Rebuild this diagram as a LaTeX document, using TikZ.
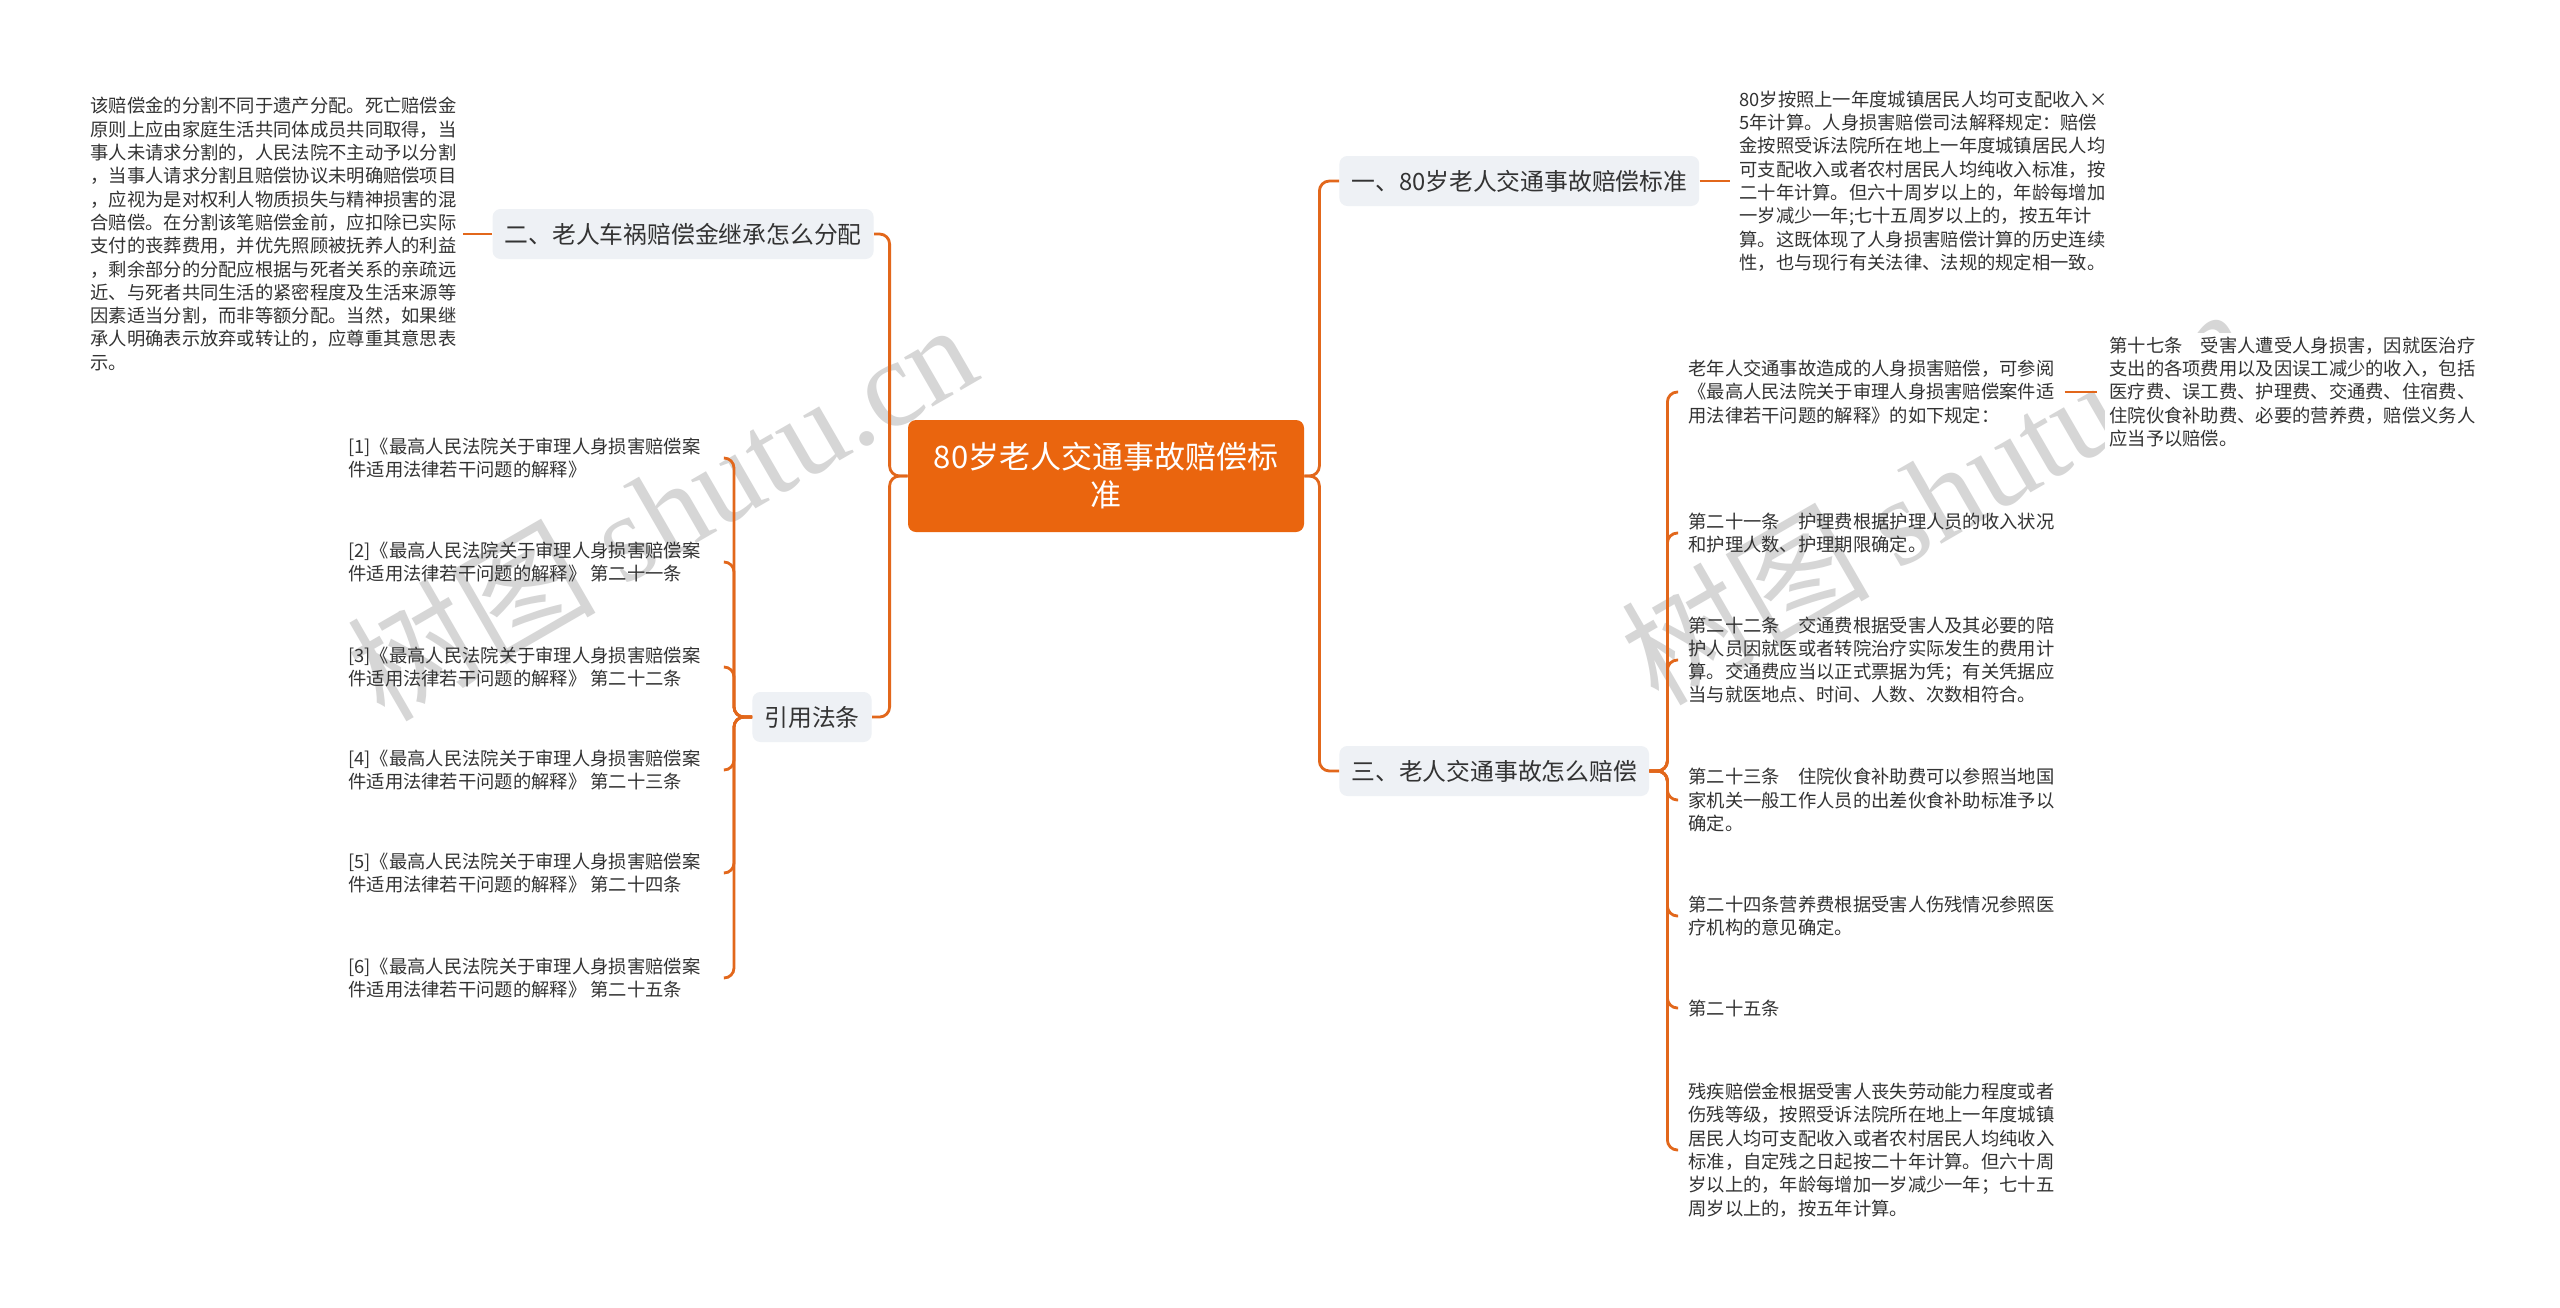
\documentclass[tikz,border=0pt]{standalone}
\usepackage{fontspec}
\setmainfont{Noto Sans CJK SC}
\newfontfamily\wmlatin{Liberation Serif}
\usetikzlibrary{positioning}
\definecolor{mapline}{HTML}{E2671B}
\definecolor{rootfill}{HTML}{EA650E}
\definecolor{topicfill}{HTML}{EEF1F5}
\definecolor{txt}{HTML}{333333}
\tikzset{
  link/.style={draw=mapline, line width=1.4pt, rounded corners=5pt},
  rootbox/.style={fill=rootfill, text=white, rounded corners=4pt, minimum width=198pt,
    minimum height=56pt, align=center, font=\fontsize{15.5pt}{19pt}\selectfont},
  topic/.style={fill=topicfill, text=txt, rounded corners=4pt, minimum height=25pt,
    inner xsep=6pt, font=\fontsize{11.9pt}{14pt}\selectfont},
  note/.style={text=txt, inner sep=0pt, align=left, font=\fontsize{9.15pt}{11.65pt}\selectfont},
  wmark/.style={text=black!16, rotate=30, font=\fontsize{62pt}{62pt}\selectfont}
}
\begin{document}
\begin{tikzpicture}[x=0.5pt, y=-0.5pt]
  \fill[white] (0,0) rectangle (2560,1307);
  \useasboundingbox (0,0) rectangle (2560,1307);
  % watermarks
  \node[wmark] (wm1) at (661,510) {树图 {\wmlatin shutu.cn}};
  \node[wmark] (wm2) at (1935,494) {树图 {\wmlatin shutu.cn}};

  % root
  \node[rootbox] (root) at (1106,476) {80岁老人交通事故赔偿标\\准};

  % right side
  \node[topic, anchor=west] (b1) at (1339,181) {一、80岁老人交通事故赔偿标准};
  \node[topic, anchor=west] (b3) at (1339,771) {三、老人交通事故怎么赔偿};
  \node[note, anchor=west] (p1) at (1739,181) {80岁按照上一年度城镇居民人均可支配收入×\\5年计算。人身损害赔偿司法解释规定：赔偿\\金按照受诉法院所在地上一年度城镇居民人均\\可支配收入或者农村居民人均纯收入标准，按\\二十年计算。但六十周岁以上的，年龄每增加\\一岁减少一年;七十五周岁以上的，按五年计\\算。这既体现了人身损害赔偿计算的历史连续\\性，也与现行有关法律、法规的规定相一致。};

  \node[note, anchor=west] (c1) at (1688,392) {老年人交通事故造成的人身损害赔偿，可参阅\\《最高人民法院关于审理人身损害赔偿案件适\\用法律若干问题的解释》的如下规定：};
  \node[note, anchor=west, fill=white, inner sep=2pt] (c1a) at (2105,392) {第十七条　受害人遭受人身损害，因就医治疗\\支出的各项费用以及因误工减少的收入，包括\\医疗费、误工费、护理费、交通费、住宿费、\\住院伙食补助费、必要的营养费，赔偿义务人\\应当予以赔偿。};
  \node[note, anchor=west] (c2) at (1688,533) {第二十一条　护理费根据护理人员的收入状况\\和护理人数、护理期限确定。};
  \node[note, anchor=west] (c3) at (1688,660) {第二十二条　交通费根据受害人及其必要的陪\\护人员因就医或者转院治疗实际发生的费用计\\算。交通费应当以正式票据为凭；有关凭据应\\当与就医地点、时间、人数、次数相符合。};
  \node[note, anchor=west] (c4) at (1688,800) {第二十三条　住院伙食补助费可以参照当地国\\家机关一般工作人员的出差伙食补助标准予以\\确定。};
  \node[note, anchor=west] (c5) at (1688,916) {第二十四条营养费根据受害人伤残情况参照医\\疗机构的意见确定。};
  \node[note, anchor=west] (c6) at (1688,1008) {第二十五条};
  \node[note, anchor=west] (c7) at (1688,1150) {残疾赔偿金根据受害人丧失劳动能力程度或者\\伤残等级，按照受诉法院所在地上一年度城镇\\居民人均可支配收入或者农村居民人均纯收入\\标准，自定残之日起按二十年计算。但六十周\\岁以上的，年龄每增加一岁减少一年；七十五\\周岁以上的，按五年计算。};

  % left side
  \node[topic, anchor=east] (b2) at (874,234) {二、老人车祸赔偿金继承怎么分配};
  \node[topic, anchor=east] (cite) at (872,717) {引用法条};
  \node[note, anchor=east] (p2) at (457,234) {该赔偿金的分割不同于遗产分配。死亡赔偿金\\原则上应由家庭生活共同体成员共同取得，当\\事人未请求分割的，人民法院不主动予以分割\\，当事人请求分割且赔偿协议未明确赔偿项目\\，应视为是对权利人物质损失与精神损害的混\\合赔偿。在分割该笔赔偿金前，应扣除已实际\\支付的丧葬费用，并优先照顾被抚养人的利益\\，剩余部分的分配应根据与死者关系的亲疏远\\近、与死者共同生活的紧密程度及生活来源等\\因素适当分割，而非等额分配。当然，如果继\\承人明确表示放弃或转让的，应尊重其意思表\\示。};

  \node[note, anchor=west] (r1) at (348,458) {[1]《最高人民法院关于审理人身损害赔偿案\\件适用法律若干问题的解释》};
  \node[note, anchor=west] (r2) at (348,562) {[2]《最高人民法院关于审理人身损害赔偿案\\件适用法律若干问题的解释》 第二十一条};
  \node[note, anchor=west] (r3) at (348,667) {[3]《最高人民法院关于审理人身损害赔偿案\\件适用法律若干问题的解释》 第二十二条};
  \node[note, anchor=west] (r4) at (348,770) {[4]《最高人民法院关于审理人身损害赔偿案\\件适用法律若干问题的解释》 第二十三条};
  \node[note, anchor=west] (r5) at (348,873) {[5]《最高人民法院关于审理人身损害赔偿案\\件适用法律若干问题的解释》 第二十四条};
  \node[note, anchor=west] (r6) at (348,978) {[6]《最高人民法院关于审理人身损害赔偿案\\件适用法律若干问题的解释》 第二十五条};

  % connectors
  \draw[link] (root.east) -- ++(15,0) |- (b1.west);
  \draw[link] (root.east) -- ++(15,0) |- (b3.west);
  \draw[link] (root.west) -- ++(-18,0) |- (b2.east);
  \draw[link] (root.west) -- ++(-18,0) |- (cite.east);
  \draw[link] (b1.east) -- ([xshift=-4.5pt]p1.west);
  \draw[link] (b2.west) -- ([xshift=3pt]p2.east);
  \foreach \c in {c1,c2,c3,c4,c5,c6,c7}
    \draw[link] (b3.east) -- ++(18,0) |- ([xshift=-5pt]\c.west);
  \draw[link] ([xshift=5pt]c1.east) -- ([xshift=-4pt]c1a.west);
  \foreach \r in {r1,r2,r3,r4,r5,r6}
    \draw[link] (cite.west) -- ++(-18,0) |- ([xshift=12pt]\r.east);
\end{tikzpicture}
\end{document}
